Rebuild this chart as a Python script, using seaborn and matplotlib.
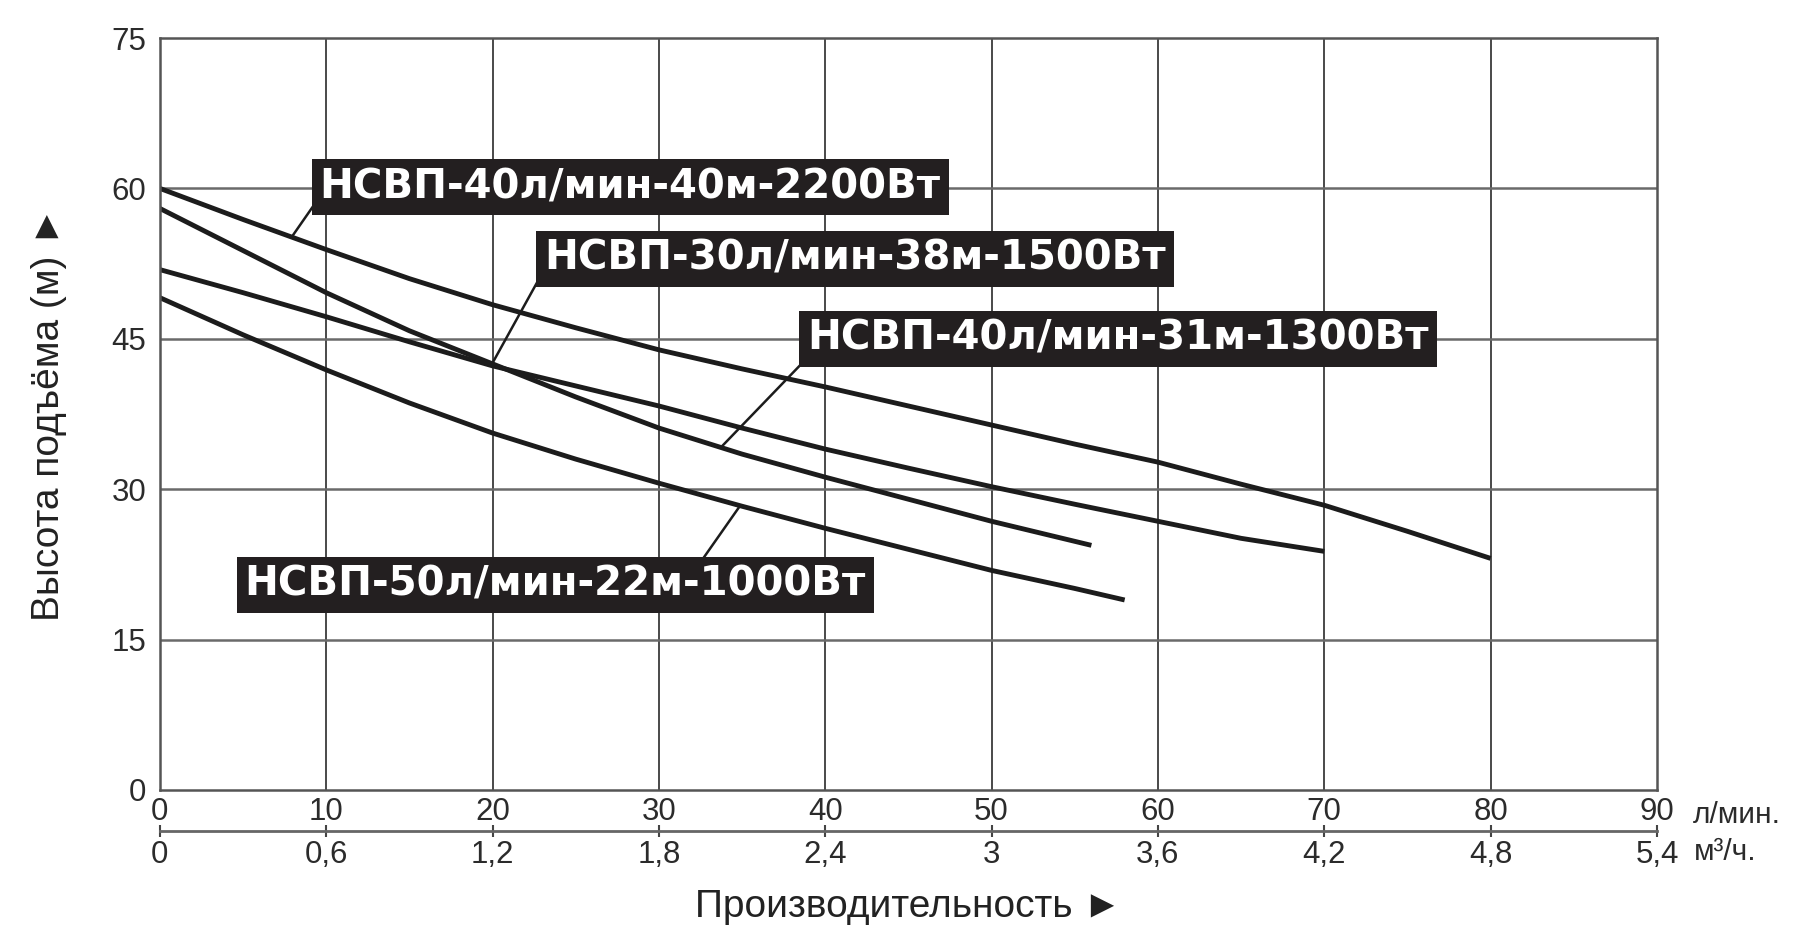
import matplotlib
matplotlib.use("Agg")
import matplotlib.pyplot as plt
import pandas as pd
import seaborn as sns
from matplotlib.ticker import FixedLocator

# curve data (flow l/min, head m)
q_2200 = [0, 5, 10, 15, 20, 25, 30, 35, 40, 45, 50, 55, 60, 65, 70, 75, 80]
h_2200 = [60.0, 56.9, 53.9, 51.0, 48.4, 46.1, 43.9, 42.0, 40.2, 38.3, 36.4, 34.5, 32.7, 30.5, 28.4, 25.8, 23.1]

q_1500 = [0, 5, 10, 15, 20, 25, 30, 35, 40, 45, 50, 56]
h_1500 = [58.0, 53.8, 49.6, 45.8, 42.5, 39.2, 36.1, 33.5, 31.2, 29.0, 26.8, 24.4]

q_1300 = [0, 5, 10, 15, 20, 25, 30, 35, 40, 45, 50, 55, 60, 65, 70]
h_1300 = [51.9, 49.6, 47.2, 44.7, 42.3, 40.3, 38.3, 36.1, 34.0, 32.1, 30.25, 28.5, 26.8, 25.1, 23.8]

q_1000 = [0, 5, 10, 15, 20, 25, 30, 35, 40, 45, 50, 55, 58]
h_1000 = [49.1, 45.4, 41.9, 38.6, 35.6, 33.0, 30.6, 28.3, 26.1, 24.0, 21.9, 20.1, 18.95]

pump_names = ["2200", "1500", "1300", "1000"]

label_texts = [
    "НСВП-40л/мин-40м-2200Вт",
    "НСВП-30л/мин-38м-1500Вт",
    "НСВП-40л/мин-31м-1300Вт",
    "НСВП-50л/мин-22м-1000Вт",
]

x_ticks = [0, 10, 20, 30, 40, 50, 60, 70, 80, 90]
y_ticks = [0, 15, 30, 45, 60, 75]
m3_ticks = [0, 0.6, 1.2, 1.8, 2.4, 3.0, 3.6, 4.2, 4.8, 5.4]
m3_labels = ["0", "0,6", "1,2", "1,8", "2,4", "3", "3,6", "4,2", "4,8", "5,4"]

frames = []
for name, q, h in zip(pump_names,
                      [q_2200, q_1500, q_1300, q_1000],
                      [h_2200, h_1500, h_1300, h_1000]):
    frames.append(pd.DataFrame({"q": q, "h": h, "pump": name}))
df = pd.concat(frames, ignore_index=True)

sns.set_style("white")
plt.rcParams["font.family"] = ["Liberation Sans", "DejaVu Sans"]

fig = plt.figure(figsize=(18.01, 9.39), dpi=100)
ax = fig.add_axes([0.0888, 0.1587, 0.8312, 0.8008])

sns.lineplot(data=df, x="q", y="h", hue="pump", hue_order=pump_names,
             palette=["#1c1c1c"] * 4, estimator=None, sort=False,
             legend=False, lw=3.5, solid_capstyle="butt",
             solid_joinstyle="round", ax=ax)

ax.set_xlim(0, 90)
ax.set_ylim(0, 75)
ax.set_xticks(x_ticks)
ax.set_yticks(y_ticks)
ax.grid(False)
for v in x_ticks[1:-1]:
    ax.axvline(v, color="#2a2a2a", lw=1.2, zorder=0)
for v in y_ticks[1:-1]:
    ax.axhline(v, color="#6a6a6a", lw=1.8, zorder=0)
for s in ax.spines.values():
    s.set_color("#555555")
    s.set_linewidth(1.8)

ax.tick_params(axis="both", length=0, labelsize=22.5, labelcolor="#2b2b2b")
ax.tick_params(axis="x", pad=5)
ax.tick_params(axis="y", pad=10)

# second flow scale in m3/h
sec = ax.secondary_xaxis(-0.0545, functions=(lambda x: x * 0.06, lambda x: x / 0.06))
sec.xaxis.set_major_locator(FixedLocator(m3_ticks))
sec.set_xticklabels(m3_labels)
sec.tick_params(axis="x", direction="inout", length=9, width=1.5, color="#444444",
                labelsize=22.5, labelcolor="#2b2b2b", pad=2)
sec.spines["bottom"].set_color("#666666")
sec.spines["bottom"].set_linewidth(2)
sec.set_xlabel("Производительность ►", fontsize=28, color="#222222", labelpad=14)

ax.set_xlabel("")
ax.set_ylabel("Высота подъёма (м) ►", fontsize=28, color="#222222", labelpad=32)

ax.text(1.024, -0.033, "л/мин.", transform=ax.transAxes, fontsize=21.5,
        color="#2b2b2b", va="center", ha="left")
ax.text(1.025, -0.0825, "м³/ч.", transform=ax.transAxes, fontsize=21.5,
        color="#2b2b2b", va="center", ha="left")

# labels with leader lines
label_centers = [(28.27, 60.1), (41.77, 53.0), (57.59, 45.0), (23.77, 20.45)]
leaders = [((9.2, 58.2), (7.9, 55.1)),
           ((22.8, 51.0), (20.0, 42.6)),
           ((38.8, 42.9), (33.8, 34.3)),
           ((32.45, 22.6), (34.9, 28.4))]

for text, (cx, cy), (start, end) in zip(label_texts, label_centers, leaders):
    ax.annotate("", xy=end, xytext=start,
                arrowprops=dict(arrowstyle="-", color="#1c1c1c", lw=1.8,
                                shrinkA=0, shrinkB=0))
    ax.text(cx, cy, text, fontsize=29, fontweight="bold", color="white",
            family=["DejaVu Sans"], ha="center", va="center", zorder=5,
            bbox=dict(boxstyle="square,pad=0.2", fc="#231f20", ec="none"))

fig.savefig("out.png", dpi=100, facecolor="white")
